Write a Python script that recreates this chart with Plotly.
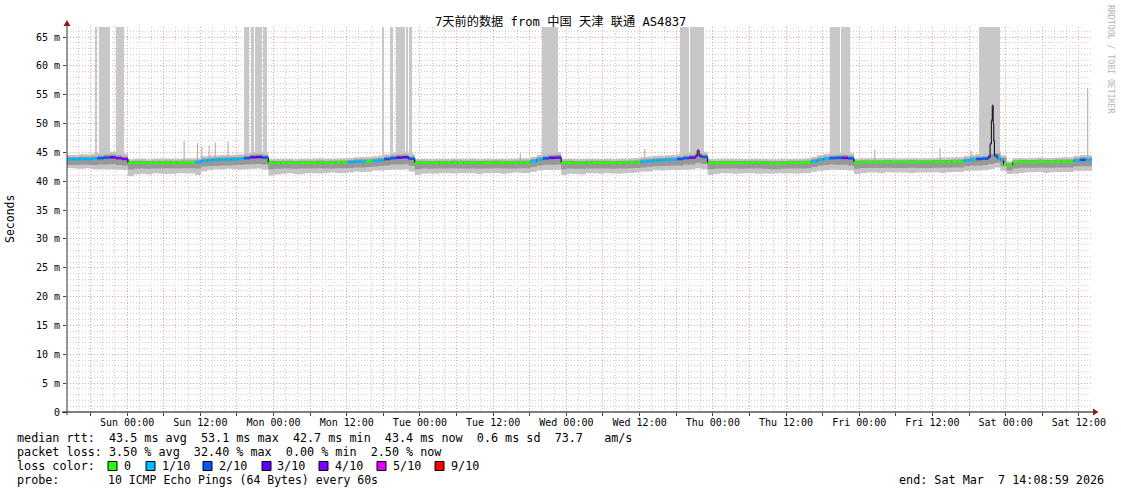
import plotly.graph_objects as go
import pandas as pd

# ---------------- data ----------------
START = pd.Timestamp("2026-02-28 14:08:59")
END = pd.Timestamp("2026-03-07 14:08:59")

# hourly samples, hour offset from START
hours = list(range(169))

median_ms = [
    43.8, 43.8, 43.85, 43.85, 43.9, 44.0, 44.1, 44.15, 44.0, 43.85,
    43.15, 43.2, 43.2, 43.15, 43.2, 43.2, 43.25, 43.2, 43.2, 43.25, 43.25,
    43.3, 43.55, 43.65, 43.7, 43.75, 43.75, 43.8, 43.85, 44.0, 44.15, 44.2, 44.1,
    43.2, 43.15, 43.2, 43.2, 43.15, 43.2, 43.2, 43.2, 43.25, 43.2, 43.2, 43.25, 43.25,
    43.3, 43.4, 43.4, 43.45, 43.55, 43.65, 43.85, 44.0, 44.1, 44.15, 43.9,
    43.2, 43.2, 43.15, 43.2, 43.2, 43.2, 43.25, 43.2, 43.2, 43.2, 43.15, 43.2, 43.2, 43.25, 43.2, 43.2, 43.2, 43.25, 43.25,
    43.45, 43.75, 43.95, 44.05, 44.1,
    43.2, 43.2, 43.15, 43.15, 43.2, 43.2, 43.2, 43.2, 43.15, 43.2, 43.2, 43.25, 43.3,
    43.4, 43.5, 43.6, 43.65, 43.7, 43.75, 43.85, 44.0, 44.1, 44.35, 44.2,
    43.2, 43.15, 43.2, 43.2, 43.2, 43.15, 43.2, 43.2, 43.2, 43.15, 43.1, 43.1, 43.15, 43.2, 43.2, 43.2, 43.25,
    43.45, 43.7, 43.9, 44.0, 44.05, 44.05, 43.95,
    43.25, 43.3, 43.3, 43.3, 43.3, 43.35, 43.3, 43.3, 43.3, 43.35, 43.3, 43.3, 43.3, 43.35, 43.35, 43.35, 43.4,
    43.4, 43.6, 43.75, 43.85, 43.9, 44.2, 44.4, 43.7, 42.75,
    43.3, 43.35, 43.35, 43.35, 43.4, 43.35, 43.35, 43.4, 43.4, 43.4, 43.6, 43.7, 43.7, 43.65,
]

# packet loss per sample, in tenths (10 pings)
loss_tenths = [
    1, 1, 1, 1, 1, 2, 2, 3, 4, 4,
    0, 0, 0, 0, 0, 0, 0, 0, 0, 0, 0,
    1, 1, 1, 1, 1, 1, 1, 1, 2, 3, 3, 2,
    0, 0, 0, 0, 0, 0, 0, 0, 0, 0, 0, 0, 0,
    1, 1, 1, 0, 1, 1, 2, 2, 3, 3, 2,
    0, 0, 0, 0, 0, 0, 0, 0, 0, 0, 0, 0, 0, 0, 0, 0, 0, 0, 0,
    1, 1, 2, 3, 3,
    0, 0, 0, 0, 0, 0, 0, 0, 0, 0, 0, 0, 0,
    1, 1, 1, 1, 1, 1, 2, 2, 3, 4, 2,
    0, 0, 0, 0, 0, 0, 0, 0, 0, 0, 0, 0, 0, 0, 0, 0, 0,
    1, 1, 1, 2, 2, 3, 2,
    0, 0, 0, 0, 0, 0, 0, 0, 0, 0, 0, 0, 0, 0, 0, 0, 0,
    0, 1, 1, 2, 2, 3, 2, 1, 0,
    0, 0, 0, 0, 0, 0, 0, 0, 0, 0, 1, 2, 1, 1,
]

# smoke (spread of the 10 pings around the median), ms
smoke_up_outer = [
    0.8, 0.8, 0.85, 0.8, 0.85, 0.9, 0.9, 1.0, 1.0, 0.9,
    0.65, 0.7, 0.7, 0.65, 0.7, 0.75, 0.7, 0.7, 0.7, 0.75, 0.7,
    0.75, 0.8, 0.8, 0.75, 0.8, 0.8, 0.8, 0.85, 0.9, 0.95, 1.0, 0.9,
    0.65, 0.7, 0.7, 0.7, 0.65, 0.7, 0.7, 0.7, 0.75, 0.7, 0.7, 0.7, 0.75,
    0.75, 0.75, 0.8, 0.75, 0.8, 0.8, 0.85, 0.9, 0.95, 1.0, 0.9,
    0.65, 0.7, 0.7, 0.7, 0.7, 0.65, 0.7, 0.7, 0.7, 0.75, 0.7, 0.7, 0.7, 0.65, 0.7, 0.7, 0.7, 0.75, 0.75,
    0.8, 0.85, 0.9, 0.95, 0.95,
    0.65, 0.7, 0.7, 0.7, 0.7, 0.7, 0.65, 0.7, 0.7, 0.7, 0.7, 0.75, 0.75,
    0.75, 0.8, 0.8, 0.8, 0.8, 0.85, 0.85, 0.9, 0.95, 1.0, 0.9,
    0.65, 0.7, 0.7, 0.7, 0.7, 0.7, 0.65, 0.7, 0.7, 0.7, 0.7, 0.7, 0.7, 0.65, 0.7, 0.7, 0.75,
    0.8, 0.85, 0.85, 0.9, 0.95, 0.95, 0.9,
    0.65, 0.7, 0.7, 0.7, 0.7, 0.7, 0.7, 0.65, 0.7, 0.7, 0.7, 0.7, 0.7, 0.7, 0.75, 0.75, 0.75,
    0.75, 0.8, 0.85, 0.9, 0.95, 1.0, 0.9, 0.8, 0.7,
    0.7, 0.7, 0.65, 0.7, 0.7, 0.7, 0.7, 0.7, 0.75, 0.75, 0.8, 0.85, 0.8, 0.8,
]
smoke_dn_outer = [
    1.5, 1.6, 1.7, 1.6, 1.8, 1.9, 2.0, 2.1, 2.0, 1.9,
    2.3, 2.0, 1.9, 2.0, 1.8, 1.9, 2.0, 1.9, 1.8, 1.9, 1.9,
    2.2, 1.8, 1.7, 1.6, 1.7, 1.6, 1.7, 1.8, 1.9, 2.0, 2.0, 2.1,
    2.2, 2.0, 1.9, 1.8, 1.9, 2.0, 1.8, 1.8, 1.9, 1.8, 1.7, 1.8, 1.8,
    1.8, 1.7, 1.8, 1.8, 1.7, 1.8, 1.9, 2.0, 2.1, 2.1, 2.2,
    2.1, 1.9, 1.8, 1.9, 1.8, 1.8, 1.9, 1.8, 1.8, 1.8, 1.9, 1.8, 1.8, 1.8, 1.9, 1.8, 1.7, 1.8, 1.8,
    1.8, 1.9, 2.0, 2.1, 2.1,
    2.1, 1.9, 1.9, 2.0, 1.8, 1.8, 1.9, 1.8, 1.8, 1.9, 1.8, 1.8, 1.8,
    1.7, 1.8, 1.7, 1.8, 1.8, 1.8, 1.9, 2.0, 2.0, 2.1, 2.1,
    2.1, 1.9, 1.8, 1.8, 1.9, 1.8, 1.8, 1.8, 1.9, 1.8, 1.8, 1.7, 1.8, 1.8, 1.9, 1.8, 1.8,
    1.8, 1.9, 2.0, 2.0, 2.1, 2.1, 2.1,
    2.0, 1.9, 1.8, 1.8, 1.9, 1.8, 1.8, 1.8, 1.8, 1.9, 1.8, 1.8, 1.8, 1.8, 1.9, 1.8, 1.8,
    1.8, 1.8, 1.9, 2.0, 2.0, 2.1, 2.0, 1.9, 1.5,
    2.0, 1.9, 1.8, 1.8, 1.8, 1.9, 1.8, 1.8, 1.8, 1.8, 1.8, 1.9, 1.9, 1.8,
]
smoke_up_core = [
    0.4, 0.4, 0.4, 0.4, 0.45, 0.45, 0.5, 0.5, 0.5, 0.45,
    0.35, 0.35, 0.35, 0.35, 0.35, 0.35, 0.35, 0.35, 0.35, 0.35, 0.35,
    0.4, 0.4, 0.4, 0.4, 0.4, 0.4, 0.4, 0.4, 0.45, 0.5, 0.5, 0.45,
    0.35, 0.35, 0.35, 0.35, 0.35, 0.35, 0.35, 0.35, 0.35, 0.35, 0.35, 0.35, 0.35,
    0.4, 0.4, 0.4, 0.35, 0.4, 0.4, 0.45, 0.45, 0.5, 0.5, 0.45,
    0.35, 0.35, 0.35, 0.35, 0.35, 0.35, 0.35, 0.35, 0.35, 0.35, 0.35, 0.35, 0.35, 0.35, 0.35, 0.35, 0.35, 0.35, 0.35,
    0.4, 0.4, 0.45, 0.5, 0.5,
    0.35, 0.35, 0.35, 0.35, 0.35, 0.35, 0.35, 0.35, 0.35, 0.35, 0.35, 0.35, 0.35,
    0.4, 0.4, 0.4, 0.4, 0.4, 0.4, 0.45, 0.45, 0.5, 0.5, 0.45,
    0.35, 0.35, 0.35, 0.35, 0.35, 0.35, 0.35, 0.35, 0.35, 0.35, 0.35, 0.35, 0.35, 0.35, 0.35, 0.35, 0.35,
    0.4, 0.4, 0.4, 0.45, 0.45, 0.5, 0.45,
    0.35, 0.35, 0.35, 0.35, 0.35, 0.35, 0.35, 0.35, 0.35, 0.35, 0.35, 0.35, 0.35, 0.35, 0.35, 0.35, 0.35,
    0.35, 0.4, 0.4, 0.45, 0.45, 0.5, 0.45, 0.4, 0.35,
    0.35, 0.35, 0.35, 0.35, 0.35, 0.35, 0.35, 0.35, 0.35, 0.35, 0.4, 0.45, 0.4, 0.4,
]
smoke_dn_core = [
    1.0, 1.0, 1.0, 1.0, 1.1, 1.1, 1.2, 1.2, 1.2, 1.1,
    1.1, 1.0, 1.0, 1.0, 1.0, 1.0, 1.0, 1.0, 1.0, 1.0, 1.0,
    1.1, 1.0, 1.0, 1.0, 1.0, 1.0, 1.0, 1.0, 1.1, 1.2, 1.2, 1.2,
    1.1, 1.0, 1.0, 1.0, 1.0, 1.0, 1.0, 1.0, 1.0, 1.0, 1.0, 1.0, 1.0,
    1.0, 1.0, 1.0, 1.0, 1.0, 1.0, 1.1, 1.1, 1.2, 1.2, 1.2,
    1.1, 1.0, 1.0, 1.0, 1.0, 1.0, 1.0, 1.0, 1.0, 1.0, 1.0, 1.0, 1.0, 1.0, 1.0, 1.0, 1.0, 1.0, 1.0,
    1.0, 1.0, 1.1, 1.2, 1.2,
    1.1, 1.0, 1.0, 1.0, 1.0, 1.0, 1.0, 1.0, 1.0, 1.0, 1.0, 1.0, 1.0,
    1.0, 1.0, 1.0, 1.0, 1.0, 1.0, 1.1, 1.1, 1.2, 1.2, 1.2,
    1.1, 1.0, 1.0, 1.0, 1.0, 1.0, 1.0, 1.0, 1.0, 1.0, 1.0, 1.0, 1.0, 1.0, 1.0, 1.0, 1.0,
    1.0, 1.0, 1.1, 1.1, 1.2, 1.2, 1.2,
    1.1, 1.0, 1.0, 1.0, 1.0, 1.0, 1.0, 1.0, 1.0, 1.0, 1.0, 1.0, 1.0, 1.0, 1.0, 1.0, 1.0,
    1.0, 1.0, 1.0, 1.1, 1.1, 1.2, 1.2, 1.1, 0.9,
    1.1, 1.0, 1.0, 1.0, 1.0, 1.0, 1.0, 1.0, 1.0, 1.0, 1.0, 1.1, 1.1, 1.0,
]

# extra (sub-hour) median samples around the short peaks
extra_hours = [103.3, 103.6, 151.3, 151.5, 151.65, 151.8, 151.9, 152.5, 153.5]
extra_ms = [45.3, 44.4, 46.5, 50.5, 53.1, 50.0, 47.0, 43.9, 42.9]
extra_loss = [4, 4, 4, 4, 4, 4, 3, 1, 0]

# single high pings sticking out of the smoke
outlier_hours = [19.2, 21.4, 22.1, 23.3, 24.3, 26.4, 74.3, 94.7, 132.4, 143.1, 148.2, 167.3]
outlier_ms = [47.0, 46.6, 46.0, 46.2, 46.7, 46.9, 44.8, 45.6, 45.5, 45.7, 45.3, 56.2]

# periods drawn as grey bars from the smoke up to the top (hour offsets)
gap_start_h = [4.75, 5.25, 8.03, 29.06, 30.11, 30.81, 32.08,
               51.79, 52.94, 53.93, 54.47, 55.57, 56.1, 77.9, 79.61,
               100.47, 101.46, 102.11, 125.06, 125.6, 126.43, 126.87, 127.4,
               149.53, 150.46, 152.54]
gap_end_h = [4.92, 7.05, 9.34, 29.83, 30.6, 31.96, 32.78,
             51.96, 53.4, 54.37, 55.4, 55.95, 56.6, 79.6, 80.43,
             101.45, 101.99, 104.36, 125.54, 126.33, 126.75, 127.31, 128.33,
             150.46, 152.53, 152.91]

loss_levels = [0, 1, 2, 3, 4, 5, 9]
loss_labels = ["0", "1/10", "2/10", "3/10", "4/10", "5/10", "9/10"]
loss_colors = ["#26ff00", "#00b8ff", "#0059ff", "#5e00ff", "#7e00ff", "#dd00ff", "#ff0000"]

y_tick_vals = [0, 5, 10, 15, 20, 25, 30, 35, 40, 45, 50, 55, 60, 65]
y_tick_text = ["0", "5 m", "10 m", "15 m", "20 m", "25 m", "30 m", "35 m",
               "40 m", "45 m", "50 m", "55 m", "60 m", "65 m"]
Y_TOP = 66.74

title_text = "7天前的数据 from 中国 天津 联通 AS4837"
rtt_line = "median rtt:  43.5 ms avg  53.1 ms max  42.7 ms min  43.4 ms now  0.6 ms sd  73.7   am/s"
loss_line = "packet loss: 3.50 % avg  32.40 % max  0.00 % min  2.50 % now"
probe_label = "probe:"
probe_text = "10 ICMP Echo Pings (64 Bytes) every 60s"
end_text = "end: Sat Mar  7 14:08:59 2026"

for arr in (median_ms, loss_tenths, smoke_up_outer, smoke_dn_outer, smoke_up_core, smoke_dn_core):
    assert len(arr) == len(hours), len(arr)

# ---------------- layout geometry ----------------
W, H = 1121, 494
L, R, T, B = 67, 29, 27, 82
PW, PH = W - L - R, H - T - B


def px(x):
    return (x - L) / PW


def py(y):
    return (H - B - y) / PH


def ts(h):
    return (START + pd.Timedelta(hours=h)).strftime("%Y-%m-%d %H:%M:%S")


MONO = "DejaVu Sans Mono"
fig = go.Figure()

# grey bars from the median up to the top of the graph
gap_base = [median_ms[int(round((s + e) / 2))] for s, e in zip(gap_start_h, gap_end_h)]
fig.add_trace(go.Bar(
    x=[ts((s + e) / 2) for s, e in zip(gap_start_h, gap_end_h)],
    y=[Y_TOP - b for b in gap_base],
    base=gap_base,
    width=[(e - s) * 3600 * 1000 for s, e in zip(gap_start_h, gap_end_h)],
    marker=dict(color="#c8c8c8", line=dict(width=0)),
    hoverinfo="skip",
))

# smoke bands
hx = [ts(h) for h in hours]


def band(lo, hi, color):
    fig.add_trace(go.Scatter(x=hx, y=lo, mode="lines", line=dict(width=0, shape="hv"),
                             hoverinfo="skip"))
    fig.add_trace(go.Scatter(x=hx, y=hi, mode="lines", line=dict(width=0, shape="hv"),
                             fill="tonexty", fillcolor=color, hoverinfo="skip"))


band([m - d for m, d in zip(median_ms, smoke_dn_outer)],
     [m + u for m, u in zip(median_ms, smoke_up_outer)], "#c4c4c4")
band([m - d for m, d in zip(median_ms, smoke_dn_core)],
     [m + u for m, u in zip(median_ms, smoke_up_core)], "#989898")

# outlier pings
ox, oy = [], []
for h, v in zip(outlier_hours, outlier_ms):
    ox += [ts(h), ts(h), None]
    oy += [median_ms[int(h)], v, None]
fig.add_trace(go.Scatter(x=ox, y=oy, mode="lines", line=dict(color="#a8a8a8", width=1),
                         hoverinfo="skip"))

# median: thin black step line + loss-coloured strokes
pts = sorted(zip(hours + extra_hours, median_ms + extra_ms, loss_tenths + extra_loss))
mx = [ts(p[0]) for p in pts]
my = [p[1] for p in pts]
ml = [p[2] for p in pts]
fig.add_trace(go.Scatter(x=mx, y=my, mode="lines", line=dict(color="#000000", width=1, shape="hv"),
                         hoverinfo="skip"))
for lvl, col in zip(loss_levels, loss_colors):
    sx, sy = [], []
    for k in range(len(pts) - 1):
        if ml[k] == lvl:
            sx += [mx[k], mx[k + 1], None]
            sy += [my[k], my[k], None]
    if sx:
        fig.add_trace(go.Scatter(x=sx, y=sy, mode="lines", line=dict(color=col, width=2.5),
                                 hoverinfo="skip"))

# ---------------- axes ----------------
tick_times = pd.date_range("2026-02-28 18:00", "2026-03-07 12:00", freq="6h")
x_tick_vals = [t.strftime("%Y-%m-%d %H:%M:%S") for t in tick_times]
x_tick_text = [t.strftime("%a %H:%M") if t.hour in (0, 12) else "" for t in tick_times]

GRID_RED = "#f4a0a0"
GRID_GREY = "#cfcfcf"
DOTS = "1px,2px"

fig.update_xaxes(
    type="date", range=[ts(0), ts(168)],
    tickmode="array", tickvals=x_tick_vals, ticktext=x_tick_text,
    showgrid=True, gridcolor=GRID_RED, griddash=DOTS, gridwidth=1,
    ticks="outside", ticklen=3, tickcolor="#444", ticklabelstandoff=-2,
    tickfont=dict(family=MONO, size=10, color="#000"),
    minor=dict(dtick=2 * 3600 * 1000, tick0="2026-02-28 18:00:00", showgrid=True,
               gridcolor=GRID_GREY, griddash=DOTS, gridwidth=1, ticks=""),
    showline=False, zeroline=False, fixedrange=True,
)
fig.update_yaxes(
    range=[0, Y_TOP], tickmode="array", tickvals=y_tick_vals, ticktext=y_tick_text,
    showgrid=True, gridcolor=GRID_RED, griddash=DOTS, gridwidth=1,
    ticks="outside", ticklen=3, tickcolor="#444", ticklabelstandoff=1,
    tickfont=dict(family=MONO, size=10, color="#000"),
    minor=dict(dtick=1, tick0=0, showgrid=True, gridcolor=GRID_GREY, griddash=DOTS,
               gridwidth=1, ticks=""),
    showline=False, zeroline=False, fixedrange=True,
)

# ---------------- shapes: axis lines, arrows, legend boxes ----------------
shapes = [
    dict(type="line", xref="paper", yref="paper", x0=px(62), x1=px(1094), y0=py(412), y1=py(412),
         line=dict(color="#000", width=1)),
    dict(type="line", xref="paper", yref="paper", x0=px(67), x1=px(67), y0=py(415), y1=py(25),
         line=dict(color="#333", width=1)),
    dict(type="path", xref="paper", yref="paper",
         path=f"M {px(1093)},{py(408.5)} L {px(1098.5)},{py(412)} L {px(1093)},{py(415.5)} Z",
         fillcolor="#8b1a1a", line=dict(width=0)),
    dict(type="path", xref="paper", yref="paper",
         path=f"M {px(63.5)},{py(26)} L {px(67)},{py(20)} L {px(70.5)},{py(26)} Z",
         fillcolor="#8b1a1a", line=dict(width=0)),
]
box_x = [108, 146, 203, 262, 319, 377, 435]
label_x = [123, 161, 218, 276, 334, 392, 450]
for bx, col in zip(box_x, loss_colors):
    shapes.append(dict(type="rect", xref="paper", yref="paper",
                       x0=px(bx), x1=px(bx + 9), y0=py(470.5), y1=py(461.5),
                       fillcolor=col, line=dict(color="#000", width=1)))
fig.update_layout(shapes=shapes)

# ---------------- text ----------------
LEG = 11.75
anns = []


def txt(x, y, s, size=LEG, anchor="left", color="#000", family=MONO, angle=0):
    anns.append(dict(xref="paper", yref="paper", x=px(x), y=py(y), text=s.replace(" ", "\u00a0"),
                     showarrow=False, xanchor=anchor, yanchor="middle", textangle=angle,
                     font=dict(family=family, size=size, color=color), borderpad=0))


txt(560.5, 21, title_text, size=12.2, anchor="center", family=MONO + ", Noto Sans CJK SC")
txt(10, 219, "Seconds", size=11.5, anchor="center", angle=-90)
txt(1111, 59, "RRDTOOL / TOBI OETIKER", size=8.2, anchor="center", color="#b4b4b4", angle=90)

txt(16, 438, rtt_line)
txt(16, 452, loss_line)
txt(16, 466, "loss color:")
for x, s in zip(label_x, loss_labels):
    txt(x, 466, s)
txt(16, 480, probe_label)
txt(107, 480, probe_text, size=11.5)
txt(1105, 480, end_text, anchor="right")

fig.update_layout(
    width=W, height=H, margin=dict(l=L, r=R, t=T, b=B, autoexpand=False),
    paper_bgcolor="#ffffff", plot_bgcolor="#ffffff", showlegend=False,
    annotations=anns, bargap=0,
    font=dict(family=MONO, size=10, color="#000"),
)

fig.write_html("out.html", config={"displayModeBar": False},
               post_script="document.body.style.margin='0';document.body.style.padding='0';")
